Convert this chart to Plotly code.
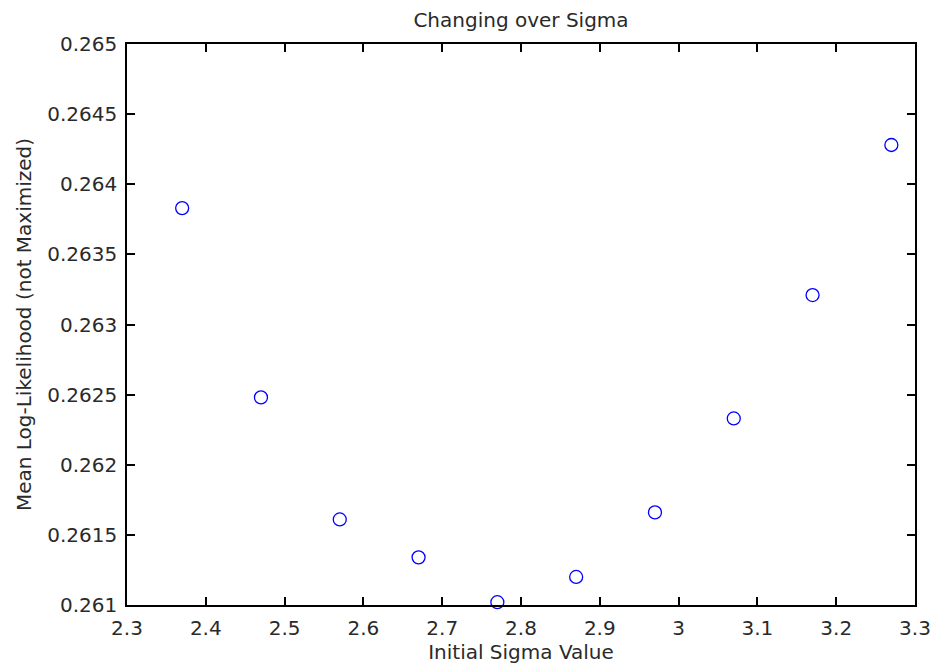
import plotly.graph_objects as go

sigma = [2.37, 2.47, 2.57, 2.67, 2.77, 2.87, 2.97, 3.07, 3.17, 3.27]
loglik = [0.26383, 0.26248, 0.26161, 0.26134, 0.26102, 0.26120, 0.26166, 0.26233, 0.26321, 0.26428]
xticks = [2.3, 2.4, 2.5, 2.6, 2.7, 2.8, 2.9, 3.0, 3.1, 3.2, 3.3]
xticklabels = ["2.3", "2.4", "2.5", "2.6", "2.7", "2.8", "2.9", "3", "3.1", "3.2", "3.3"]
yticks = [0.261, 0.2615, 0.262, 0.2625, 0.263, 0.2635, 0.264, 0.2645, 0.265]
yticklabels = ["0.261", "0.2615", "0.262", "0.2625", "0.263", "0.2635", "0.264", "0.2645", "0.265"]

FONT = "DejaVu Sans, Liberation Sans, sans-serif"
TXT = "#2a2a2a"

fig = go.Figure()
fig.add_trace(go.Scatter(
    x=sigma, y=loglik, mode="markers",
    marker=dict(symbol="circle-open", size=13, color="#0000ff", line=dict(width=1.3, color="#0000ff")),
    showlegend=False, cliponaxis=False,
))

axis_common = dict(
    showgrid=False, zeroline=False, showline=True, linecolor="black", linewidth=1.5,
    mirror="ticks", ticks="inside", ticklen=8, tickwidth=1.5, tickcolor="black",
    tickfont=dict(family=FONT, size=20, color=TXT), automargin=False,
)
fig.update_layout(
    width=934, height=669,
    margin=dict(l=127, r=19, t=44, b=64),
    paper_bgcolor="white", plot_bgcolor="white",
    title=dict(text="Changing over Sigma", x=0.5, xref="paper", xanchor="center",
               y=1 - 20/669, yanchor="middle",
               font=dict(family=FONT, size=20, color=TXT), automargin=False),
    xaxis=dict(range=[2.3, 3.3], tickvals=xticks, ticktext=xticklabels, ticklabelstandoff=4,
               title=dict(text="Initial Sigma Value", standoff=2,
                          font=dict(family=FONT, size=20, color=TXT)),
               **axis_common),
    yaxis=dict(range=[0.261, 0.265], tickvals=yticks, ticktext=yticklabels, ticklabelstandoff=4,
               title=dict(text="Mean Log-Likelihood (not Maximized)", standoff=10,
                          font=dict(family=FONT, size=20, color=TXT)),
               **axis_common),
)
fig.write_html("out.html")
